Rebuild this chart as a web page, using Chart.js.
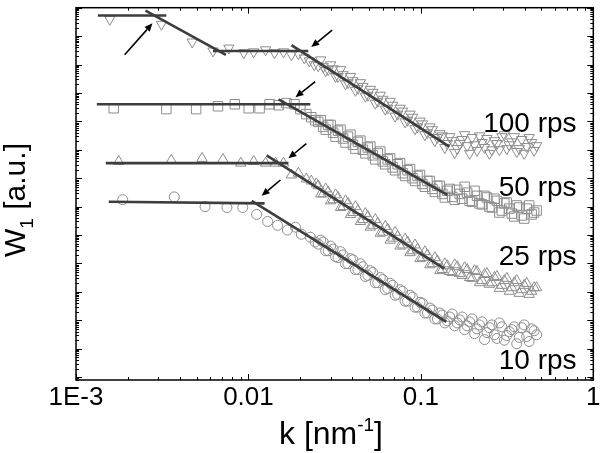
<!DOCTYPE html>
<html>
<head>
<meta charset="utf-8">
<script src="https://cdn.jsdelivr.net/npm/chart.js@4.4.1/dist/chart.umd.min.js"></script>
<style>
  html, body { margin: 0; padding: 0; background: #fff; }
  canvas { display: block; }
</style>
</head>
<body>
<canvas id="wChart" width="601" height="453"></canvas>
<script>
// k values (nm^-1) used for the dense part of every curve
const kDense = [0.02539, 0.02714, 0.02900, 0.03098, 0.03310, 0.03537, 0.03779, 0.04037, 0.04315, 0.04610,
  0.04927, 0.05263, 0.05626, 0.06010, 0.06422, 0.06862, 0.07333, 0.07835, 0.08373, 0.08946,
  0.09559, 0.1021, 0.1091, 0.1166, 0.1246, 0.1332, 0.1423, 0.1520, 0.1625, 0.1736,
  0.1855, 0.1982, 0.2117, 0.2263, 0.2417, 0.2583, 0.2761, 0.2949, 0.3151, 0.3368,
  0.3598, 0.3845, 0.4108, 0.4390, 0.4691];
// second, interleaved set of k values
const kDense2 = [0.02625, 0.02805, 0.02998, 0.03202, 0.03422, 0.03656, 0.03906, 0.04173, 0.04460, 0.04765,
  0.05093, 0.05440, 0.05816, 0.06213, 0.06638, 0.07093, 0.07580, 0.08099, 0.08655, 0.09247,
  0.09881, 0.1055, 0.1128, 0.1205, 0.1288, 0.1377, 0.1471, 0.1571, 0.1680, 0.1794,
  0.1918, 0.2049, 0.2188, 0.2339, 0.2498, 0.2670, 0.2854, 0.3048, 0.3257, 0.3481,
  0.3719, 0.3975, 0.4246, 0.4538];

// 100 rps
const k100Low = [0.00157, 0.00313, 0.00472, 0.00623, 0.00770, 0.00940, 0.01073, 0.01258, 0.01417, 0.01597,
  0.01776, 0.01948, 0.02110, 0.02254, 0.02408];
const w100Low = [3.9e12, 2.6e12, 6.2e11, 3.0e11, 3.8e11, 2.6e11, 2.8e11, 3.3e11, 2.6e11, 2.8e11,
  2.2e11, 2.4e11, 1.7e11, 1.35e11, 9.8e10];
const w100Dense = [9.1e10, 8.4e10, 6.6e10, 7.1e10, 3.8e10, 4.4e10, 2.3e10, 2.7e10, 1.45e10, 1.7e10,
  8.3e9, 1.05e10, 5.1e9, 6.0e9, 2.9e9, 3.7e9, 1.8e9, 2.3e9, 1.1e9, 1.4e9,
  6.4e8, 8.2e8, 4.0e8, 5.1e8, 2.7e8, 3.1e8, 1.66e8, 2.1e8, 1.1e8, 2.3e8,
  1.4e8, 2.7e8, 9.5e7, 1.8e8, 2.5e8, 1.0e8, 1.66e8, 2.9e8, 1.1e8, 1.9e8,
  8.7e7, 2.3e8, 1.3e8, 1.8e8, 1.4e8];
const w100Dense2 = [1.46e11, 6.1e10, 9.8e10, 3.8e10, 6.6e10, 2.1e10, 3.8e10, 1.24e10, 2.3e10, 7.7e9,
  1.34e10, 4.35e9, 8.3e9, 2.7e9, 5.1e9, 1.53e9, 2.9e9, 9.6e8, 1.8e9, 5.5e8,
  1.02e9, 3.4e8, 6.4e8, 2.1e8, 3.7e8, 1.2e8, 2.9e8, 8.0e7, 1.66e8, 3.4e8,
  7.5e7, 1.5e8, 3.1e8, 1.2e8, 7.5e7, 2.1e8, 1.0e8, 3.4e8, 1.5e8, 2.9e8,
  1.1e8, 7.5e7, 2.7e8, 9.5e7];

// 50 rps
const k50Low = [0.001655, 0.003341, 0.004973, 0.006657, 0.00834, 0.01004, 0.01161, 0.01327, 0.01495, 0.01661,
  0.01848, 0.02000, 0.02166, 0.02314, 0.02440];
const w50Low = [2.9e9, 2.7e9, 2.7e9, 3.4e9, 4.0e9, 2.9e9, 2.9e9, 4.0e9, 3.7e9, 4.4e9,
  4.0e9, 2.7e9, 1.8e9, 1.4e9, 1.1e9];
const w50Dense = [9.6e8, 6.4e8, 7.5e8, 4.0e8, 4.7e8, 2.5e8, 2.9e8, 1.5e8, 1.9e8, 1.0e8,
  1.2e8, 6.4e7, 7.5e7, 3.9e7, 4.6e7, 2.4e7, 3.1e7, 1.5e7, 1.9e7, 1.0e7,
  1.2e7, 6.3e6, 8.0e6, 4.2e6, 5.4e6, 2.8e6, 3.6e6, 2.2e6, 3.9e6, 1.9e6,
  3.1e6, 1.5e6, 2.4e6, 1.2e6, 2.1e6, 9.3e5, 1.6e6, 7.3e5, 1.4e6, 5.7e5,
  1.1e6, 4.9e5, 8.5e5, 5.3e5, 7.3e5];
const w50Dense2 = [1.1e9, 5.1e8, 7.5e8, 2.9e8, 5.1e8, 1.8e8, 3.4e8, 1.1e8, 2.1e8, 7.5e7,
  1.3e8, 4.6e7, 8.7e7, 3.1e7, 5.0e7, 1.9e7, 3.4e7, 1.2e7, 2.1e7, 8.0e6,
  1.3e7, 5.0e6, 8.0e6, 3.3e6, 5.4e6, 2.1e6, 4.2e6, 1.75e6, 2.8e6, 5.0e6,
  1.6e6, 3.6e6, 1.3e6, 2.4e6, 1.0e6, 1.9e6, 6.2e5, 1.3e6, 8.5e5, 4.5e5,
  9.3e5, 3.8e5, 1.1e6, 6.2e5];

// 25 rps
const k25Low = [0.001768, 0.00357, 0.005384, 0.007112, 0.009031, 0.01073, 0.01258, 0.01437, 0.01597, 0.01776,
  0.01948, 0.02166, 0.02314, 0.02473];
const w25Low = [3.9e7, 4.3e7, 5.0e7, 4.6e7, 3.4e7, 3.9e7, 3.4e7, 3.4e7, 3.4e7, 1.3e7,
  1.5e7, 9.4e6, 8.0e6, 6.3e6];
const w25Dense = [5.4e6, 2.8e6, 3.3e6, 1.75e6, 2.1e6, 1.0e6, 1.3e6, 6.2e5, 7.3e5, 3.5e5,
  4.5e5, 2.2e5, 2.6e5, 1.26e5, 1.6e5, 7.8e4, 9.1e4, 4.5e4, 5.7e4, 2.8e4,
  3.2e4, 1.6e4, 2.0e4, 9.8e3, 1.24e4, 6.1e3, 8.3e3, 4.8e3, 7.7e3, 3.8e3,
  6.1e3, 3.0e3, 5.2e3, 2.5e3, 4.4e3, 2.1e3, 3.5e3, 1.7e3, 3.0e3, 1.4e3,
  2.5e3, 1.2e3, 2.0e3, 1.05e3, 1.4e3];
const w25Dense2 = [2.8e6, 4.2e6, 1.6e6, 2.6e6, 9.3e5, 1.6e6, 5.3e5, 1.0e6, 3.0e5, 5.7e5,
  1.9e5, 3.5e5, 1.16e5, 2.0e5, 6.6e4, 1.26e5, 4.1e4, 7.2e4, 2.4e4, 4.5e4,
  1.48e4, 2.6e4, 9.0e3, 1.6e4, 5.6e3, 9.8e3, 5.2e3, 9.0e3, 4.4e3, 7.1e3,
  3.2e3, 5.6e3, 2.1e3, 4.1e3, 1.85e3, 3.2e3, 1.33e3, 2.5e3, 1.05e3, 2.1e3,
  890, 1.7e3, 820, 1.4e3];

// 10 rps
const k10Low = [0.001865, 0.003715, 0.005603, 0.007502, 0.009273, 0.01116, 0.01292, 0.01475, 0.01683, 0.01873,
  0.02027, 0.02285, 0.02440];
const w10Low = [1.75e6, 2.2e6, 1.0e6, 9.3e5, 9.3e5, 5.3e5, 3.0e5, 2.2e5, 1.5e5, 1.9e5,
  1.07e5, 8.4e4, 5.7e4];
const w10Dense = [4.8e4, 5.7e4, 2.8e4, 3.2e4, 1.6e4, 2.0e4, 9.8e3, 1.35e4, 6.1e3, 7.7e3,
  3.8e3, 4.8e3, 2.1e3, 2.7e3, 1.33e3, 1.7e3, 820, 1050, 470, 650,
  290, 400, 180, 230, 112, 154, 96, 167, 81, 131,
  64, 112, 50, 88, 37, 69, 23, 59, 29, 47,
  15, 55, 27, 50, 31];
const w10Dense2 = [6.6e4, 2.8e4, 4.1e4, 1.73e4, 2.6e4, 9.8e3, 1.48e4, 6.1e3, 9.8e3, 3.5e3,
  5.6e3, 2.1e3, 3.2e3, 1.2e3, 2.0e3, 760, 1.2e3, 470, 760, 290,
  430, 180, 270, 112, 180, 81, 131, 64, 103, 47,
  88, 34, 69, 21, 55, 31, 81, 20, 40, 59,
  25, 69, 18, 43];

// fitted straight lines: start / end
const fitK = [
  [0.001339, 0.003341], [0.002529, 0.007403], [0.00623, 0.02224], [0.01776, 0.1461],
  [0.001321, 0.02285], [0.01495, 0.1423],
  [0.001488, 0.01706], [0.01275, 0.1367],
  [0.001549, 0.01241], [0.01045, 0.1404]
];
const fitW = [
  [5.3e12, 5.3e12], [7.9e12, 2.2e11], [3.0e11, 3.0e11], [4.85e11, 1.3e8],
  [4.0e9, 4.0e9], [6.0e9, 2.6e6],
  [3.4e7, 3.4e7], [6.4e7, 6.6e3],
  [1.49e6, 1.3e6], [1.6e6, 88]
];

// arrows marking the crossovers: tail / head
const arrowK = [[0.001915, 0.002776], [0.03057, 0.02314], [0.0244, 0.01873], [0.02166, 0.01706], [0.01534, 0.01193]];
const arrowW = [[2.2e11, 2.81e12], [1.61e12, 4.13e11], [2.53e10, 7.05e9], [1.66e8, 5.0e7], [8.65e6, 2.4e6]];

const rpsLabels = ['100 rps', '50 rps', '25 rps', '10 rps'];
const labelW = [4.32e8, 2.41e6, 9.03e3, 1.91];
const labelK = 0.8;

const xTickValues = [0.001, 0.01, 0.1, 1];
const xTickLabels = ['1E-3', '0.01', '0.1', '1'];

const FONT = '"Liberation Sans", Arial, sans-serif';
const markerColor = '#8d8d8d';
const fitColor = '#3d3d3d';

function toPoints(ks, ws) {
  return ks.map((k, i) => ({ x: k, y: ws[i] }));
}

function markerSet(label, ks, ws, style, radius, rotation) {
  return {
    label: label,
    data: toPoints(ks, ws),
    showLine: false,
    pointStyle: style,
    pointRadius: radius,
    pointRotation: rotation,
    pointBorderColor: markerColor,
    pointBackgroundColor: 'rgba(0,0,0,0)',
    pointBorderWidth: 1,
    order: 1
  };
}

const datasets = [
  markerSet('100 rps', k100Low.concat(kDense, kDense2), w100Low.concat(w100Dense, w100Dense2), 'triangle', 6, 180),
  markerSet('50 rps', k50Low.concat(kDense, kDense2), w50Low.concat(w50Dense, w50Dense2), 'rect', 6.7, 0),
  markerSet('25 rps', k25Low.concat(kDense, kDense2), w25Low.concat(w25Dense, w25Dense2), 'triangle', 6, 0),
  markerSet('10 rps', k10Low.concat(kDense, kDense2), w10Low.concat(w10Dense, w10Dense2), 'circle', 5, 0)
];

fitK.forEach((ks, i) => {
  datasets.push({
    label: 'fit' + i,
    data: toPoints(ks, fitW[i]),
    showLine: true,
    borderColor: fitColor,
    borderWidth: 2.6,
    pointRadius: 0,
    order: 0
  });
});

const decorPlugin = {
  id: 'decor',
  afterDatasetsDraw(chart) {
    const { ctx, chartArea: a, scales: { x, y } } = chart;
    ctx.save();

    // arrows
    ctx.strokeStyle = '#000';
    ctx.fillStyle = '#000';
    ctx.lineWidth = 1.6;
    arrowK.forEach((ks, i) => {
      const x0 = x.getPixelForValue(ks[0]), y0 = y.getPixelForValue(arrowW[i][0]);
      const x1 = x.getPixelForValue(ks[1]), y1 = y.getPixelForValue(arrowW[i][1]);
      const ang = Math.atan2(y1 - y0, x1 - x0);
      const hl = 8, hw = 3.5;
      const bx = x1 - hl * Math.cos(ang), by = y1 - hl * Math.sin(ang);
      ctx.beginPath();
      ctx.moveTo(x0, y0);
      ctx.lineTo(bx, by);
      ctx.stroke();
      ctx.beginPath();
      ctx.moveTo(x1, y1);
      ctx.lineTo(bx + hw * Math.sin(ang), by - hw * Math.cos(ang));
      ctx.lineTo(bx - hw * Math.sin(ang), by + hw * Math.cos(ang));
      ctx.closePath();
      ctx.fill();
    });

    // series labels
    ctx.font = '28px ' + FONT;
    ctx.textAlign = 'right';
    ctx.textBaseline = 'alphabetic';
    rpsLabels.forEach((t, i) => {
      ctx.fillText(t, x.getPixelForValue(labelK), y.getPixelForValue(labelW[i]));
    });

    // frame
    ctx.lineWidth = 1.5;
    ctx.strokeRect(a.left, a.top, a.right - a.left, a.bottom - a.top);

    // inward ticks on all four sides
    ctx.lineWidth = 1;
    ctx.beginPath();
    for (let e = -3; e <= 0; e++) {
      for (let m = 1; m <= 9; m++) {
        const v = m * Math.pow(10, e);
        if (v < x.min * 0.999 || v > x.max * 1.001) continue;
        const px = Math.round(x.getPixelForValue(v)) + 0.5;
        const len = m === 1 ? 6 : 3;
        ctx.moveTo(px, a.bottom); ctx.lineTo(px, a.bottom - len);
        ctx.moveTo(px, a.top); ctx.lineTo(px, a.top + len);
      }
    }
    for (let e = -1; e <= 13; e++) {
      for (let m = 1; m <= 9; m++) {
        const v = m * Math.pow(10, e);
        if (v < y.min || v > y.max * 1.001) continue;
        const py = Math.round(y.getPixelForValue(v)) + 0.5;
        const len = m === 1 ? 6 : 3;
        ctx.moveTo(a.left, py); ctx.lineTo(a.left + len, py);
        ctx.moveTo(a.right, py); ctx.lineTo(a.right - len, py);
      }
    }
    ctx.stroke();

    // x tick labels
    ctx.font = '26px ' + FONT;
    ctx.textAlign = 'center';
    xTickValues.forEach((v, i) => {
      ctx.fillText(xTickLabels[i], x.getPixelForValue(v), a.bottom + 25);
    });

    // x title: k [nm^-1]
    const big = '32px ' + FONT, small = '19px ' + FONT;
    ctx.textAlign = 'left';
    ctx.font = big;
    const p1 = 'k [nm', p3 = ']';
    const w1 = ctx.measureText(p1).width, w3 = ctx.measureText(p3).width;
    ctx.font = small;
    const w2 = ctx.measureText('-1').width;
    const tx = 331 - (w1 + w2 + w3) / 2;
    const ty = a.bottom + 64;
    ctx.font = big;
    ctx.fillText(p1, tx, ty);
    ctx.font = small;
    ctx.fillText('-1', tx + w1, ty - 13);
    ctx.font = big;
    ctx.fillText(p3, tx + w1 + w2, ty);

    // y title: W_1 [a.u.]
    ctx.translate(25, 200);
    ctx.rotate(-Math.PI / 2);
    ctx.font = '30px ' + FONT;
    const q1 = 'W', q3 = ' [a.u.]';
    const v1 = ctx.measureText(q1).width, v3 = ctx.measureText(q3).width;
    ctx.font = small;
    const v2 = ctx.measureText('1').width;
    const sx = -(v1 + v2 + v3) / 2;
    ctx.font = '30px ' + FONT;
    ctx.fillText(q1, sx, 0);
    ctx.font = small;
    ctx.fillText('1', sx + v1, 8);
    ctx.font = '30px ' + FONT;
    ctx.fillText(q3, sx + v1 + v2, 0);

    ctx.restore();
  }
};

new Chart(document.getElementById('wChart').getContext('2d'), {
  type: 'scatter',
  data: { datasets: datasets },
  options: {
    responsive: false,
    animation: false,
    events: [],
    layout: { padding: { left: 76, right: 4, top: 2, bottom: 73 } },
    plugins: { legend: { display: false }, tooltip: { enabled: false } },
    scales: {
      x: { type: 'logarithmic', min: 0.001, max: 1, display: false },
      y: { type: 'logarithmic', min: 0.7943, max: 1e13, display: false }
    }
  },
  plugins: [decorPlugin]
});
</script>
</body>
</html>
